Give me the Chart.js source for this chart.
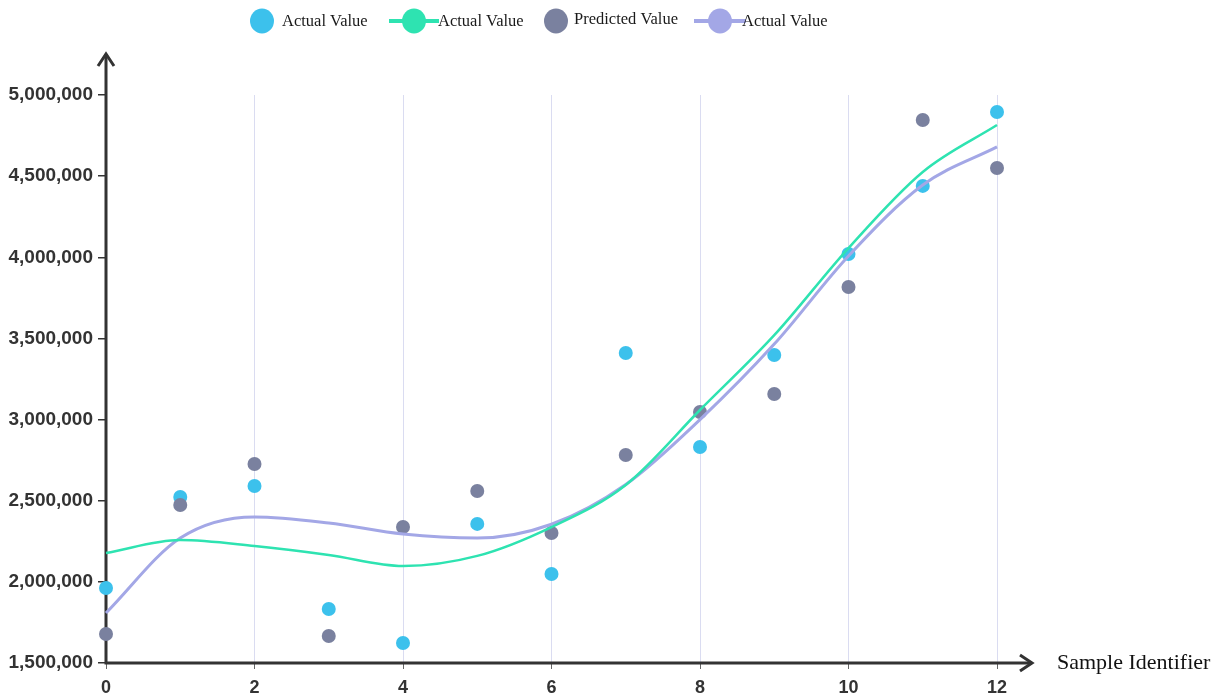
<!DOCTYPE html>
<html>
<head>
<meta charset="utf-8">
<title>Sample Identifier vs Value</title>
<script src="https://cdn.jsdelivr.net/npm/chart.js@4/dist/chart.umd.min.js"></script>
<style>
  html, body { margin: 0; padding: 0; background: #ffffff; }
  #wrap { width: 1223px; height: 695px; }
</style>
</head>
<body>
<div id="wrap"><canvas id="chart" width="1223" height="695"></canvas></div>
<script>
// Sample identifiers along the horizontal axis
const sampleIds = [0, 1, 2, 3, 4, 5, 6, 7, 8, 9, 10, 11, 12];

// Measured values (cyan markers)
const actualValues = [1962000, 2523000, 2591000, 1833000, 1623000, 2357000, 2048000,
                      3410000, 2831000, 3398000, 4020000, 4440000, 4895000];

// Model predictions (slate markers)
const predictedValues = [1679000, 2474000, 2726000, 1666000, 2338000, 2560000, 2301000,
                         2782000, 3047000, 3158000, 3817000, 4846000, 4550000];

// Smoothed trend through the measured values (green curve)
const actualTrend = [2178000, 2258000, 2221000, 2166000, 2098000, 2160000, 2338000,
                     2597000, 3059000, 3520000, 4057000, 4526000, 4815000];

// Smoothed trend through the predictions (lavender curve)
const predictedTrend = [1808000, 2270000, 2400000, 2363000, 2295000, 2270000, 2355000,
                        2600000, 3000000, 3465000, 4008000, 4445000, 4680000];

// Y-axis range and step
const yMin = 1500000, yMax = 5000000, yStep = 500000;

const legendItems = [
  { label: 'Actual Value',    color: '#3cc1ec', kind: 'dot'  },
  { label: 'Actual Value',    color: '#2ee3b1', kind: 'line' },
  { label: 'Predicted Value', color: '#7a819f', kind: 'dot'  },
  { label: 'Actual Value',    color: '#a3a7e6', kind: 'line' }
];

const toXY = arr => sampleIds.map((x, i) => ({ x: x, y: arr[i] }));

// Axis lines with open arrowheads, drawn under the markers
const axisArrows = {
  id: 'axisArrows',
  beforeDatasetsDraw(chart) {
    const { ctx, chartArea } = chart;
    const x0 = chartArea.left, y0 = chartArea.bottom;
    const yTip = 54, xTip = 1032;
    ctx.save();
    ctx.strokeStyle = '#333333';
    ctx.lineWidth = 3;
    ctx.lineCap = 'butt';
    ctx.beginPath();
    ctx.moveTo(x0, y0 + 1.5);
    ctx.lineTo(x0, yTip + 2);
    ctx.moveTo(x0 - 1.5, y0);
    ctx.lineTo(xTip - 2, y0);
    ctx.stroke();
    ctx.lineJoin = 'miter';
    ctx.beginPath();
    ctx.moveTo(x0 - 8, yTip + 12);
    ctx.lineTo(x0, yTip);
    ctx.lineTo(x0 + 8, yTip + 12);
    ctx.moveTo(xTip - 12, y0 - 8);
    ctx.lineTo(xTip, y0);
    ctx.lineTo(xTip - 12, y0 + 8);
    ctx.stroke();
    ctx.restore();
  },
  afterDraw(chart) {
    const { ctx, chartArea } = chart;
    ctx.save();
    // axis title to the right of the arrow
    ctx.fillStyle = '#111111';
    ctx.font = '22px "Liberation Serif", "Times New Roman", serif';
    ctx.textBaseline = 'middle';
    ctx.textAlign = 'left';
    ctx.fillText('Sample Identifier', 1057, chartArea.bottom);

    // legend row
    ctx.font = '16.5px "Liberation Serif", "Times New Roman", serif';
    const cy = 21;
    const pos = [
      { mark: 262, text: 282 },
      { mark: 414, lineFrom: 389, lineTo: 439, text: 438 },
      { mark: 556, text: 574 },
      { mark: 720, lineFrom: 694, lineTo: 746, text: 742 }
    ];
    legendItems.forEach((item, i) => {
      const p = pos[i];
      if (item.kind === 'line') {
        ctx.strokeStyle = item.color;
        ctx.lineWidth = 4;
        ctx.beginPath();
        ctx.moveTo(p.lineFrom, cy);
        ctx.lineTo(p.lineTo, cy);
        ctx.stroke();
      }
      ctx.fillStyle = item.color;
      ctx.beginPath();
      ctx.ellipse(p.mark, cy, 12, 12.5, 0, 0, Math.PI * 2);
      ctx.fill();
      ctx.fillStyle = '#1a1a1a';
      ctx.fillText(item.label, p.text, i === 2 ? cy - 1 : cy + 1);
    });
    ctx.restore();
  }
};

new Chart(document.getElementById('chart'), {
  type: 'line',
  data: {
    datasets: [
      {
        label: 'Actual Value',
        data: toXY(actualTrend),
        borderColor: '#2ee3b1',
        borderWidth: 2.5,
        pointRadius: 0,
        cubicInterpolationMode: 'monotone',
        fill: false,
        order: 0,
        clip: false
      },
      {
        label: 'Actual Value',
        data: toXY(predictedTrend),
        borderColor: '#a3a7e6',
        borderWidth: 3,
        pointRadius: 0,
        cubicInterpolationMode: 'monotone',
        fill: false,
        order: 1,
        clip: false
      },
      {
        label: 'Predicted Value',
        data: toXY(predictedValues),
        showLine: false,
        pointRadius: 7,
        pointBorderWidth: 0,
        pointBackgroundColor: '#7a819f',
        borderColor: '#7a819f',
        order: 2,
        clip: false
      },
      {
        label: 'Actual Value',
        data: toXY(actualValues),
        showLine: false,
        pointRadius: 7,
        pointBorderWidth: 0,
        pointBackgroundColor: '#3cc1ec',
        borderColor: '#3cc1ec',
        order: 3,
        clip: false
      }
    ]
  },
  options: {
    responsive: false,
    animation: false,
    layout: { padding: { top: 95, right: 226, bottom: 0, left: 0 } },
    plugins: {
      legend: { display: false },
      tooltip: { enabled: false }
    },
    scales: {
      x: {
        type: 'linear',
        min: 0,
        max: 12,
        border: { display: false },
        grid: {
          color: 'rgba(214,216,240,0.9)',
          lineWidth: 1,
          tickColor: '#666666',
          tickLength: 6
        },
        ticks: {
          stepSize: 2,
          color: '#333333',
          font: { family: '"Liberation Sans", Arial, sans-serif', size: 18, weight: 'bold' },
          padding: 8,
          maxRotation: 0
        },
        afterFit(scale) { scale.height = 32; }
      },
      y: {
        min: yMin,
        max: yMax,
        border: { display: false },
        grid: {
          drawOnChartArea: false,
          tickColor: '#333333',
          tickLength: 8,
          lineWidth: 1.5
        },
        ticks: {
          stepSize: yStep,
          color: '#333333',
          font: { family: '"Liberation Sans", Arial, sans-serif', size: 19, weight: 'bold' },
          padding: 5,
          callback: v => v.toLocaleString('en-US')
        },
        afterFit(scale) { scale.width = 106; }
      }
    }
  },
  plugins: [axisArrows]
});
</script>
</body>
</html>
